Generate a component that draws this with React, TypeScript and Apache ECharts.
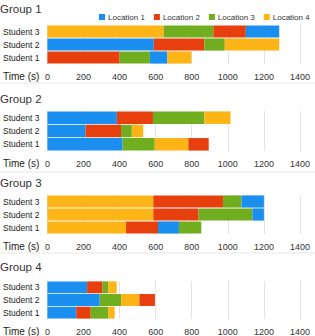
import React, { useEffect, useRef } from "react";
import * as echarts from "echarts";

const students = ["Student 1", "Student 2", "Student 3"];
const locations = ["Location 1", "Location 2", "Location 3", "Location 4"];
const locationColors = ["#1b8ff0", "#e83f0e", "#70ad1f", "#fdb416"];
const groupNames = ["Group 1", "Group 2", "Group 3", "Group 4"];

// visit order (location number) and durations (s) per student: Student 1, 2, 3
const group1Order = [[2, 3, 1, 4], [1, 2, 3, 4], [4, 3, 2, 1]];
const group1Time = [[400, 168, 97, 133], [590, 280, 113, 302], [645, 275, 180, 185]];
const group2Order = [[1, 3, 4, 2], [1, 2, 3, 4], [1, 2, 3, 4]];
const group2Time = [[417, 178, 186, 113], [212, 196, 60, 63], [385, 200, 285, 145]];
const group3Order = [[4, 2, 1, 3], [4, 2, 3, 1], [4, 2, 3, 1]];
const group3Time = [[436, 177, 116, 124], [587, 251, 298, 64], [587, 386, 103, 124]];
const group4Order = [[1, 2, 3, 4], [1, 3, 4, 2], [1, 2, 3, 4]];
const group4Time = [[160, 80, 97, 36], [290, 119, 101, 86], [220, 86, 31, 47]];

const orders = [group1Order, group2Order, group3Order, group4Order];
const times = [group1Time, group2Time, group3Time, group4Time];

const FONT = "Liberation Sans, Arial, sans-serif";
const gridTops = [25, 111, 195, 281];
const gridHs = [39, 40, 39, 38];
const titleTops = [3, 93, 177, 261];
const sepYs = [83, 172, 253];

export default function App() {
  const ref = useRef<HTMLDivElement>(null);
  useEffect(() => {
    const chart = echarts.init(ref.current!, null, { renderer: "svg" });
    const grids = gridTops.map((t, g) => ({ left: 43, right: 15, top: t, height: gridHs[g], containLabel: false }));
    const xAxes = gridTops.map((_, g) => ({
      type: "value",
      gridIndex: g,
      min: 0,
      max: 1400,
      interval: 200,
      axisLine: { show: false },
      axisTick: { show: false },
      splitLine: { show: true, lineStyle: { color: "#e3e3e3", width: 1 } },
      axisLabel: { fontSize: 9, color: "#333", fontFamily: FONT, margin: 8, formatter: (v: number) => String(v) },
    }));
    const yAxes = gridTops.map((_, g) => ({
      type: "category",
      gridIndex: g,
      data: students,
      axisLine: { show: false },
      axisTick: { show: false },
      axisLabel: { fontSize: 8.5, color: "#222", fontFamily: FONT, margin: 8 },
    }));
    const series: any[] = [];
    orders.forEach((order, g) => {
      for (let k = 0; k < 4; k++) {
        series.push({
          type: "bar",
          stack: "g" + g,
          xAxisIndex: g,
          yAxisIndex: g,
          barCategoryGap: "6%",
          silent: true,
          data: students.map((_, i) => ({
            value: times[g][i][k],
            itemStyle: { color: locationColors[order[i][k] - 1] },
          })),
        });
      }
    });
    locations.forEach((name, i) => {
      series.push({
        type: "line",
        name,
        xAxisIndex: 0,
        yAxisIndex: 0,
        data: [],
        color: locationColors[i],
        itemStyle: { color: locationColors[i] },
        lineStyle: { color: locationColors[i] },
      });
    });
    const graphics: any[] = [];
    groupNames.forEach((name, g) => {
      graphics.push({
        type: "text",
        left: 0,
        top: titleTops[g],
        style: { text: name, fontSize: 11.5, fill: "#333", fontFamily: FONT },
      });
      graphics.push({
        type: "text",
        left: 3,
        top: gridTops[g] + gridHs[g] + 7,
        style: { text: "Time (s)", fontSize: 10, fill: "#222", fontFamily: FONT },
      });
    });
    sepYs.forEach((y) => {
      graphics.push({
        type: "line",
        shape: { x1: 0, y1: y, x2: 315, y2: y },
        style: { stroke: "#e6e6e6", lineWidth: 1 },
      });
    });
    chart.setOption({
      animation: false,
      grid: grids,
      xAxis: xAxes,
      yAxis: yAxes,
      legend: {
        data: locations.map((name) => ({ name, icon: "rect" })),
        left: 94,
        top: 8,
        width: 221,
        itemWidth: 6,
        itemHeight: 6,
        itemGap: 9,
        textStyle: { fontSize: 8, color: "#333", fontFamily: FONT, padding: [0, 0, 0, -2] },
      },
      series,
      graphic: graphics,
    });
    return () => chart.dispose();
  }, []);
  return (
    <div
      ref={ref}
      style={{ position: "fixed", left: 0, top: 0, width: 315, height: 336, background: "#fff" }}
    />
  );
}
